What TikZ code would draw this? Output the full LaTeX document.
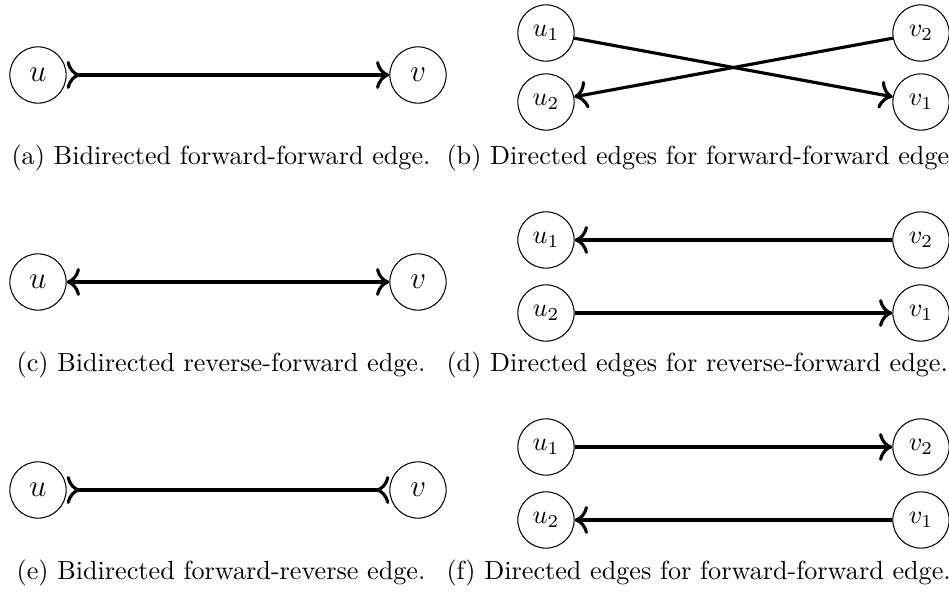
\documentclass[tikz,border=0pt]{standalone}
\usetikzlibrary{arrows.meta}
\begin{document}
\begin{tikzpicture}[x=0.382pt,y=-0.382pt,>={To[scale=1.2]},
	vertex/.style={draw,circle,minimum size=21.5pt,inner sep=0pt},
	edge/.style={very thick},
	subcap/.style={inner sep=0pt}]
	\useasboundingbox (0,0) rectangle (949,593);
	\def\ul{38}
	\def\vl{418}
	\def\ur{546}
	\def\vr{921}

	% forward-forward
	\node[vertex] (u) at (\ul,75) {\large $u$};
	\node[vertex] (v) at (\vl,75) {\large $v$};
	\draw [edge, >->] (u) -- (v);
	\node[subcap] (capa) at (221,158) {(a) Bidirected forward-forward edge.};

	\node[vertex] (u1) at (\ur,33) {$u_1$};
	\node[vertex] (u2) at (\ur,102) {$u_2$};
	\node[vertex] (v2) at (\vr,33) {$v_2$};
	\node[vertex] (v1) at (\vr,102) {$v_1$};
	\draw [edge, ->] (u1) -- (v1);
	\draw [edge, ->] (v2) -- (u2);
	\node[subcap, anchor=west] (capb) at (446,158) {(b) Directed edges for forward-forward edge.};

	% reverse-forward
	\node[vertex] (u) at (\ul,282) {\large $u$};
	\node[vertex] (v) at (\vl,282) {\large $v$};
	\draw [edge, <->] (u) -- (v);
	\node[subcap] (capc) at (221,365) {(c) Bidirected reverse-forward edge.};

	\node[vertex] (u1) at (\ur,240) {$u_1$};
	\node[vertex] (u2) at (\ur,313) {$u_2$};
	\node[vertex] (v2) at (\vr,240) {$v_2$};
	\node[vertex] (v1) at (\vr,313) {$v_1$};
	\draw [edge, ->] (v2) -- (u1);
	\draw [edge, ->] (u2) -- (v1);
	\node[subcap, anchor=west] (capd) at (446,365) {(d) Directed edges for reverse-forward edge.};

	% forward-reverse
	\node[vertex] (u) at (\ul,490) {\large $u$};
	\node[vertex] (v) at (\vl,490) {\large $v$};
	\draw [edge, >-<] (u) -- (v);
	\node[subcap] (cape) at (221,573) {(e) Bidirected forward-reverse edge.};

	\node[vertex] (u1) at (\ur,447) {$u_1$};
	\node[vertex] (u2) at (\ur,520) {$u_2$};
	\node[vertex] (v2) at (\vr,447) {$v_2$};
	\node[vertex] (v1) at (\vr,520) {$v_1$};
	\draw [edge, ->] (u1) -- (v2);
	\draw [edge, ->] (v1) -- (u2);
	\node[subcap, anchor=west] (capf) at (446,573) {(f) Directed edges for forward-forward edge.};
\end{tikzpicture}
\end{document}
